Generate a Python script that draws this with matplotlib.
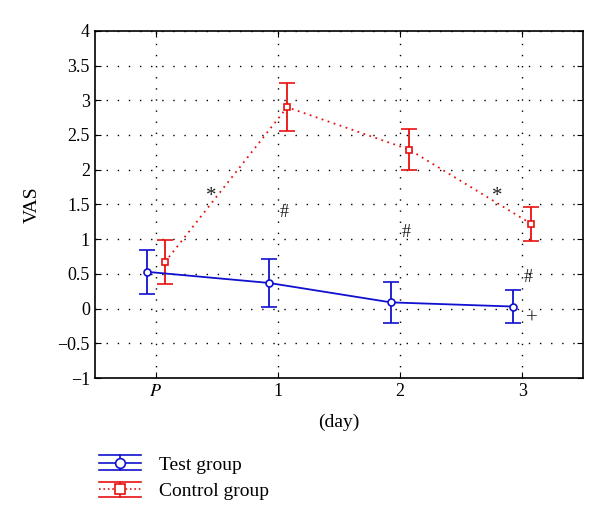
import numpy as np
import matplotlib.pyplot as plt
from matplotlib.lines import Line2D
from matplotlib.legend_handler import HandlerBase

plt.rcParams['font.family'] = ['Liberation Serif', 'DejaVu Serif']
plt.rcParams['mathtext.fontset'] = 'stix'

days = [0, 1, 2, 3]
day_labels = ['$P$', '1', '2', '3']

test_mean = [0.53, 0.37, 0.09, 0.03]
test_err = [0.315, 0.35, 0.29, 0.24]
ctrl_mean = [0.67, 2.90, 2.29, 1.22]
ctrl_err = [0.32, 0.35, 0.29, 0.245]

# significance marks: (x, y, symbol)
marks_x = [0.45, 2.8, 1.05, 2.05, 3.05, 3.08]
marks_y = [1.62, 1.62, 1.38, 1.1, 0.45, -0.15]
marks_s = ['*', '*', '#', '#', '#', '+']


class ErrHandler(HandlerBase):
    def __init__(self, color, ls, marker):
        super().__init__()
        self.color = color
        self.ls = ls
        self.marker = marker

    def create_artists(self, legend, orig_handle, xdescent, ydescent,
                       width, height, fontsize, trans):
        y = height / 2 - ydescent
        top = y + height * 0.55
        bot = y - height * 0.55
        cx = width / 2 - xdescent
        a = Line2D([-xdescent, width - xdescent], [top, top], color=self.color, lw=1.2)
        b = Line2D([-xdescent, width - xdescent], [bot, bot], color=self.color, lw=1.2)
        c = Line2D([cx, cx], [bot, top], color=self.color, lw=1.2)
        d = Line2D([-xdescent, width - xdescent], [y, y], color=self.color, lw=1.2,
                   ls=self.ls)
        e = Line2D([cx], [y], color=self.color, marker=self.marker, ms=7,
                   mfc='white', mew=1.2, ls='none')
        for art in (a, b, c, d, e):
            art.set_transform(trans)
        return [a, b, c, d, e]


fig = plt.figure(figsize=(6, 5.13), dpi=100)
ax = fig.add_axes([0.158, 0.263, 0.814, 0.677])

off = 0.075
tx = np.array(days) - off
cx = np.array(days) + off

ax.errorbar(tx, test_mean, yerr=test_err, color='#1010d0', lw=1.3, marker='o',
            ms=5, mfc='white', mew=1.2, capsize=5.5, elinewidth=1.3, capthick=1.3,
            zorder=3)
ax.errorbar(cx, ctrl_mean, yerr=ctrl_err, color='#e81010', lw=1.3, ls=(0, (1, 2.5)),
            marker='s', ms=5, mfc='white', mew=1.2, capsize=5.5, elinewidth=1.3,
            capthick=1.3, zorder=3)

for x, y, s in zip(marks_x, marks_y, marks_s):
    ax.text(x, y, s, fontsize=15 if s in '*+' else 13, ha='center', va='center',
            color='#222222')

ax.set_xlim(-0.5, 3.5)
ax.set_ylim(-1, 4)
ax.set_xticks(days)
ax.set_xticklabels(day_labels)
ax.set_yticks(np.arange(-1, 4.01, 0.5))
ax.set_yticklabels(['%g' % v if v >= 0 else '\u2212%g' % -v
                    for v in np.arange(-1, 4.01, 0.5)])
ax.tick_params(direction='in', labelsize=13, length=4, top=True, right=True)
ax.grid(True, color='black', ls=(0, (1, 7)), lw=1.0)
for sp in ax.spines.values():
    sp.set_linewidth(1.2)

ax.set_ylabel('VAS', fontsize=14, labelpad=12)
ax.set_xlabel('(day)', fontsize=14, labelpad=10)

h1 = Line2D([], [])
h2 = Line2D([], [])
fig.legend([h1, h2], ['Test group', 'Control group'],
           handler_map={h1: ErrHandler('#1010d0', '-', 'o'),
                        h2: ErrHandler('#e81010', ':', 's')},
           loc='upper left', bbox_to_anchor=(0.135, 0.145), frameon=False,
           fontsize=14, handlelength=2.2, labelspacing=0.45, handletextpad=0.9)

fig.savefig('out.png', dpi=100)
